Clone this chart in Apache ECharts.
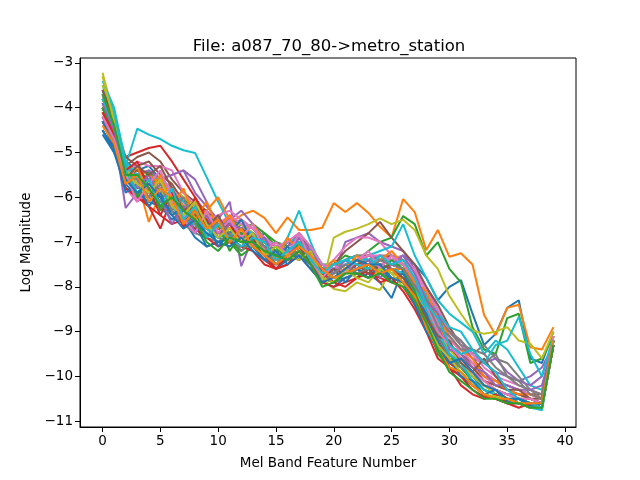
<!DOCTYPE html>
<html>
<head>
<meta charset="utf-8">
<script src="https://cdn.jsdelivr.net/npm/echarts@6/dist/echarts.min.js"></script>
<style>
  html, body { margin: 0; padding: 0; background: #fff; }
  #chart { width: 640px; height: 480px; }
</style>
</head>
<body>
<div id="chart"></div>
<script>
// mel band index 0..39
var bands = [0,1,2,3,4,5,6,7,8,9,10,11,12,13,14,15,16,17,18,19,20,21,22,23,24,25,26,27,28,29,30,31,32,33,34,35,36,37,38,39];
var xTicks = [0, 5, 10, 15, 20, 25, 30, 35, 40];
var yTicks = [-11, -10, -9, -8, -7, -6, -5, -4, -3];

// one array per frame
var frame00 = [-3.6,-4.3,-5.2,-5.4,-5.3,-5.6,-5.8,-6.2,-6.4,-6.6,-6.5,-6.8,-6.6,-6.9,-7.1,-7.3,-7.0,-6.9,-7.3,-7.5,-7.6,-7.4,-7.5,-7.4,-7.3,-7.4,-7.3,-7.5,-7.8,-8.3,-8.0,-7.85,-8.6,-9.3,-9.05,-8.47,-8.3,-9.6,-9.7,-9.0];
var frame01 = [-4.0,-4.6,-5.5,-5.6,-6.55,-5.9,-5.8,-6.0,-6.2,-6.4,-6.5,-6.6,-6.4,-6.3,-6.46,-6.8,-6.45,-6.73,-6.73,-6.68,-6.13,-6.33,-6.13,-6.35,-6.66,-6.9,-6.04,-6.33,-7.18,-6.73,-7.33,-7.25,-7.5,-8.63,-9.08,-8.47,-8.4,-9.35,-9.4,-8.9];
var frame02 = [-3.8,-4.5,-5.3,-5.5,-5.4,-5.7,-5.9,-6.0,-6.3,-6.4,-6.6,-6.5,-6.7,-6.6,-6.8,-7.0,-7.1,-6.9,-7.1,-7.5,-7.5,-7.3,-7.4,-7.2,-7.0,-6.9,-6.42,-6.6,-7.3,-7.0,-7.6,-7.9,-8.9,-9.4,-9.5,-8.7,-8.6,-9.7,-9.6,-9.1];
var frame03 = [-4.2,-4.7,-5.1,-5.0,-4.9,-4.85,-5.2,-5.6,-6.0,-6.4,-6.5,-6.6,-6.7,-6.9,-7.2,-7.5,-7.3,-7.1,-7.3,-7.6,-7.8,-7.6,-7.5,-7.6,-7.4,-7.3,-7.5,-8.0,-8.4,-8.9,-9.4,-9.6,-9.9,-10.2,-10.3,-10.4,-10.5,-10.6,-10.6,-9.2];
var frame04 = [-4.4,-4.6,-6.24,-5.9,-6.0,-5.6,-5.5,-5.4,-5.9,-6.2,-6.5,-6.1,-7.54,-6.9,-7.0,-7.2,-7.0,-7.1,-7.2,-7.5,-7.7,-7.0,-6.9,-6.8,-7.0,-7.1,-7.2,-7.6,-8.0,-8.5,-9.0,-9.2,-9.5,-9.7,-9.9,-10.0,-10.1,-10.0,-9.8,-9.3];
var frame05 = [-3.7,-4.4,-5.3,-5.1,-5.0,-5.2,-5.6,-5.9,-6.1,-6.3,-6.6,-6.5,-6.6,-6.8,-7.0,-7.2,-7.0,-6.9,-7.3,-7.6,-7.5,-7.2,-7.0,-6.8,-6.55,-6.9,-7.2,-7.5,-8.0,-8.4,-8.9,-9.3,-9.6,-9.9,-10.1,-10.2,-10.3,-10.4,-10.4,-9.2];
var frame06 = [-4.1,-4.8,-5.6,-5.2,-5.3,-5.3,-5.4,-5.9,-6.2,-6.6,-6.8,-6.4,-6.6,-6.7,-7.0,-7.1,-7.2,-6.9,-7.2,-7.6,-7.4,-7.1,-6.9,-6.9,-7.0,-7.3,-7.4,-7.6,-8.1,-8.6,-9.1,-9.5,-9.8,-10.0,-10.2,-10.3,-10.4,-10.4,-10.5,-9.2];
var frame07 = [-3.8,-4.4,-5.3,-5.6,-5.7,-5.8,-6.2,-6.5,-6.6,-6.7,-6.8,-6.6,-6.5,-6.7,-7.0,-7.3,-7.2,-7.0,-7.4,-7.7,-7.8,-7.7,-7.5,-7.4,-7.3,-7.3,-7.4,-7.8,-8.2,-8.6,-9.0,-9.2,-9.5,-9.3,-9.6,-9.7,-10.0,-10.3,-10.5,-9.2];
var frame08 = [-3.22,-4.2,-5.3,-5.4,-5.5,-5.6,-5.8,-6.0,-6.2,-6.4,-6.5,-6.7,-6.6,-6.8,-7.0,-7.2,-7.1,-7.3,-7.4,-7.96,-6.9,-6.77,-6.7,-6.6,-6.47,-6.6,-6.5,-6.73,-7.3,-7.6,-8.2,-8.6,-8.97,-9.05,-9.0,-8.9,-9.2,-9.27,-9.6,-9.0];
var frame09 = [-3.5,-4.1,-5.3,-4.47,-4.6,-4.7,-4.85,-4.95,-5.01,-5.55,-6.1,-6.6,-6.9,-7.0,-7.2,-7.3,-6.9,-6.3,-7.0,-7.6,-7.5,-7.4,-7.5,-7.3,-7.2,-7.1,-6.6,-7.3,-7.8,-8.3,-8.6,-8.8,-9.0,-9.5,-9.2,-9.4,-9.8,-10.2,-10.3,-9.1];
var frame10 = [-4.5,-4.9,-5.7,-6.0,-5.8,-6.1,-6.3,-6.5,-6.9,-7.1,-7.0,-6.9,-7.1,-7.0,-7.3,-7.6,-7.4,-7.2,-7.5,-7.8,-7.9,-7.7,-7.6,-7.7,-7.9,-8.25,-7.6,-8.0,-8.5,-9.0,-9.6,-9.7,-10.0,-10.3,-10.4,-10.5,-10.6,-10.6,-10.7,-9.3];
var frame11 = [-3.9,-4.6,-5.5,-5.8,-5.7,-6.0,-5.9,-6.2,-6.5,-6.3,-6.0,-6.5,-6.8,-6.9,-7.1,-7.4,-7.3,-7.0,-7.3,-7.7,-7.8,-7.6,-7.5,-7.3,-7.4,-7.5,-7.5,-7.9,-8.4,-8.8,-9.3,-9.5,-9.8,-10.1,-10.2,-10.3,-10.4,-10.5,-10.6,-9.2];
var frame12 = [-4.0,-4.7,-5.5,-6.0,-5.4,-5.9,-6.1,-6.4,-6.7,-6.6,-6.9,-7.0,-7.2,-7.0,-6.8,-7.1,-7.2,-7.0,-7.3,-7.6,-7.7,-7.5,-7.4,-7.6,-7.7,-7.8,-7.9,-8.3,-8.8,-9.3,-9.7,-9.8,-10.1,-10.3,-10.4,-10.5,-10.6,-10.6,-10.6,-9.2];
var frame13 = [-4.3,-4.8,-5.6,-5.9,-6.2,-6.7,-6.0,-6.3,-6.4,-6.6,-6.5,-6.8,-6.9,-7.1,-7.4,-7.6,-7.5,-7.2,-7.5,-7.8,-7.9,-7.8,-7.7,-7.8,-7.6,-7.5,-7.6,-8.1,-8.6,-9.1,-9.7,-9.9,-10.2,-10.4,-10.5,-10.6,-10.6,-10.7,-10.7,-9.3];
var frame14 = [-3.7,-4.4,-5.3,-5.5,-5.4,-5.6,-5.5,-5.4,-5.6,-6.1,-6.7,-6.5,-6.3,-6.6,-6.9,-7.1,-7.0,-6.8,-7.1,-7.5,-7.6,-7.4,-7.3,-7.4,-7.5,-7.6,-7.7,-8.0,-8.3,-8.7,-9.0,-9.3,-9.6,-9.7,-9.6,-9.9,-10.1,-10.2,-10.0,-9.2];
var frame15 = [-3.6,-4.3,-5.1,-5.3,-5.2,-5.5,-5.7,-6.1,-6.3,-6.6,-6.8,-6.9,-6.8,-6.9,-7.1,-7.3,-7.1,-6.8,-7.2,-7.6,-7.6,-7.4,-7.3,-7.3,-7.4,-7.5,-7.6,-7.8,-8.2,-8.7,-9.3,-9.5,-9.7,-10.0,-10.1,-10.2,-10.3,-10.4,-10.5,-9.3];
var frame16 = [-4.2,-4.8,-5.8,-6.1,-5.9,-5.6,-5.8,-6.1,-6.5,-6.7,-6.6,-6.4,-6.6,-6.9,-7.1,-7.3,-7.2,-7.0,-7.3,-7.6,-7.7,-7.6,-7.5,-7.4,-7.5,-7.4,-7.3,-7.7,-8.1,-8.5,-9.0,-9.3,-9.5,-9.8,-10.0,-10.1,-10.2,-10.3,-10.4,-9.1];
var frame17 = [-3.9,-4.5,-5.4,-5.7,-5.9,-6.1,-6.3,-6.6,-6.8,-6.9,-7.0,-6.8,-7.0,-7.1,-7.3,-7.4,-7.3,-7.1,-7.4,-7.8,-7.9,-7.8,-7.7,-7.6,-7.7,-7.8,-7.8,-8.0,-8.4,-8.7,-9.0,-9.3,-9.4,-9.5,-9.8,-10.0,-10.2,-10.3,-10.4,-9.2];
var frame18 = [-3.5,-4.2,-5.4,-5.6,-5.7,-5.9,-6.0,-6.2,-6.4,-6.5,-6.7,-6.8,-6.9,-7.0,-7.2,-7.3,-7.2,-7.1,-7.4,-7.8,-8.05,-8.1,-7.9,-8.0,-8.07,-7.6,-7.9,-8.2,-8.6,-9.0,-9.5,-9.7,-9.9,-10.2,-10.3,-10.4,-10.5,-10.5,-10.6,-9.2];
var frame19 = [-3.4,-4.0,-5.2,-5.5,-5.6,-5.6,-5.9,-6.1,-6.3,-6.5,-6.6,-6.8,-6.7,-6.8,-7.0,-7.2,-7.0,-6.9,-7.2,-7.5,-7.6,-7.4,-7.3,-7.4,-7.3,-7.5,-7.5,-7.8,-8.2,-8.6,-8.9,-9.0,-9.4,-9.7,-9.3,-9.2,-8.67,-9.5,-10.0,-9.1];
var frame20 = [-4.5,-5.0,-5.8,-5.9,-6.1,-6.2,-6.5,-6.3,-6.6,-7.1,-7.0,-6.9,-6.8,-7.1,-7.4,-7.5,-7.4,-7.3,-7.5,-7.9,-8.0,-7.8,-7.7,-7.6,-7.6,-7.7,-7.7,-8.1,-8.7,-9.2,-9.8,-10.0,-10.2,-10.4,-10.5,-10.55,-10.6,-10.65,-10.75,-9.3];
var frame21 = [-4.1,-4.7,-5.6,-5.8,-5.5,-5.7,-5.9,-6.2,-6.3,-6.5,-6.6,-6.7,-6.9,-7.0,-7.2,-7.4,-7.3,-7.1,-7.3,-7.6,-7.7,-7.6,-7.5,-7.4,-7.5,-7.6,-7.6,-7.9,-8.3,-8.8,-9.3,-9.6,-9.9,-10.1,-10.3,-10.4,-10.5,-10.5,-10.6,-9.1];
var frame22 = [-4.0,-4.6,-5.5,-5.7,-5.8,-6.0,-6.2,-6.4,-6.6,-6.8,-6.9,-7.0,-7.3,-7.1,-7.0,-7.2,-7.3,-7.2,-7.4,-7.8,-7.9,-7.7,-7.6,-7.5,-7.6,-7.8,-7.9,-8.3,-8.7,-9.0,-9.5,-9.8,-10.1,-10.3,-10.4,-10.5,-10.6,-10.6,-10.6,-9.2];
var frame23 = [-4.3,-4.9,-5.8,-6.0,-6.2,-6.4,-6.6,-6.5,-6.7,-6.9,-7.1,-7.0,-7.1,-7.2,-7.5,-7.6,-7.5,-7.3,-7.6,-7.9,-8.0,-7.9,-7.8,-7.7,-7.8,-7.9,-8.0,-8.4,-8.9,-9.4,-9.8,-10.0,-10.3,-10.45,-10.5,-10.6,-10.6,-10.7,-10.7,-9.3];
var frame24 = [-3.8,-4.5,-5.4,-5.6,-5.8,-5.9,-6.1,-6.3,-6.5,-6.6,-6.7,-6.6,-6.7,-6.9,-7.1,-7.3,-7.1,-6.9,-7.2,-7.6,-7.7,-7.5,-7.4,-7.3,-7.4,-7.5,-7.6,-7.9,-8.4,-8.9,-9.5,-9.7,-10.0,-10.2,-10.3,-10.4,-10.4,-10.5,-10.6,-9.2];
var frame25 = [-4.0,-4.6,-5.5,-5.4,-5.6,-5.8,-6.0,-6.2,-6.4,-6.6,-6.7,-6.8,-6.7,-6.9,-7.1,-7.3,-7.2,-7.0,-7.3,-7.7,-7.8,-7.6,-7.5,-7.4,-7.5,-7.6,-7.7,-8.0,-8.5,-9.0,-9.4,-9.6,-9.8,-10.1,-10.2,-10.3,-10.4,-10.5,-10.6,-9.2];
var frame26 = [-3.9,-4.5,-5.5,-5.7,-5.6,-5.8,-6.1,-6.4,-6.6,-6.5,-6.4,-6.3,-6.5,-6.7,-6.9,-7.1,-7.0,-6.8,-7.1,-7.5,-7.6,-7.5,-7.4,-7.3,-7.3,-7.4,-7.5,-7.8,-8.3,-8.8,-9.2,-9.4,-9.7,-9.9,-10.1,-10.2,-10.3,-10.4,-10.5,-9.2];
var frame27 = [-4.2,-4.8,-5.6,-5.9,-6.0,-6.2,-6.4,-6.6,-6.5,-6.7,-6.9,-7.0,-6.9,-7.0,-7.3,-7.4,-7.3,-7.2,-7.4,-7.7,-7.8,-7.7,-7.6,-7.5,-7.5,-7.6,-7.7,-8.1,-8.6,-9.1,-9.6,-9.8,-10.0,-10.2,-10.3,-10.4,-10.5,-10.6,-10.6,-9.3];
var frame28 = [-3.7,-4.3,-5.4,-5.6,-5.7,-5.9,-6.0,-6.2,-6.5,-6.7,-6.8,-6.9,-7.0,-7.1,-7.2,-7.4,-7.2,-7.0,-7.3,-7.7,-7.8,-7.6,-7.5,-7.6,-7.6,-7.7,-7.8,-8.1,-8.5,-9.0,-9.4,-9.7,-10.0,-10.2,-10.4,-10.5,-10.5,-10.6,-10.6,-9.2];
var frame29 = [-3.6,-4.2,-5.3,-5.6,-5.8,-6.0,-6.2,-6.5,-6.6,-6.7,-6.9,-6.8,-6.9,-7.0,-7.2,-7.3,-7.2,-7.0,-7.3,-7.7,-7.7,-7.5,-7.4,-7.4,-7.5,-7.6,-7.7,-8.0,-8.5,-9.0,-9.5,-9.7,-10.1,-10.3,-10.4,-10.6,-10.6,-10.7,-10.75,-9.2];
var frame30 = [-4.3,-4.9,-5.9,-5.7,-6.2,-5.9,-6.4,-6.2,-6.8,-6.5,-7.1,-6.8,-6.5,-7.0,-6.9,-7.4,-7.1,-7.4,-7.2,-7.7,-7.6,-7.9,-7.6,-7.8,-7.5,-7.9,-7.7,-8.2,-8.6,-9.3,-9.6,-10.0,-10.1,-10.4,-10.3,-10.6,-10.5,-10.7,-10.6,-9.3];
var frame31 = [-3.8,-4.5,-5.7,-5.3,-5.9,-5.5,-6.2,-5.8,-6.5,-6.1,-6.7,-6.4,-6.9,-6.6,-7.0,-7.4,-6.9,-7.2,-7.5,-7.7,-7.4,-7.6,-7.3,-7.6,-7.4,-7.2,-7.5,-7.9,-8.1,-8.7,-9.1,-9.4,-9.6,-10.0,-10.1,-10.3,-10.4,-10.4,-10.5,-9.1];
var frame32 = [-4.0,-4.6,-5.4,-6.0,-5.6,-6.3,-5.9,-6.6,-6.3,-6.9,-6.6,-7.2,-6.8,-7.0,-7.3,-7.1,-7.4,-7.0,-7.5,-7.7,-7.9,-7.6,-7.8,-7.5,-7.7,-7.4,-7.6,-8.1,-8.8,-9.5,-9.8,-9.9,-10.2,-10.4,-10.5,-10.5,-10.6,-10.6,-10.7,-9.2];
var frame33 = [-4.1,-4.6,-5.4,-5.2,-5.8,-6.4,-5.9,-6.7,-6.0,-6.5,-6.8,-6.6,-7.0,-6.9,-7.3,-7.6,-7.3,-7.4,-7.2,-7.7,-7.9,-8.0,-7.8,-7.6,-7.9,-7.8,-8.1,-8.5,-9.0,-9.6,-9.8,-10.2,-10.4,-10.5,-10.4,-10.6,-10.7,-10.6,-10.7,-9.3];
var frame34 = [-3.9,-4.5,-5.5,-5.8,-5.5,-6.0,-6.6,-6.2,-6.8,-6.4,-6.9,-6.6,-6.7,-7.1,-6.9,-7.3,-7.4,-6.9,-7.2,-7.6,-7.7,-7.4,-7.6,-7.4,-7.8,-7.5,-7.3,-7.7,-8.3,-8.6,-9.4,-9.5,-9.8,-9.9,-10.2,-10.2,-10.3,-10.3,-10.2,-9.3];
var frame35 = [-3.6,-4.3,-5.6,-5.3,-5.5,-5.3,-5.8,-6.3,-6.1,-6.7,-6.4,-6.9,-7.1,-6.8,-7.2,-7.0,-7.3,-7.1,-7.5,-7.8,-7.6,-7.7,-7.5,-7.7,-7.5,-7.6,-7.8,-8.2,-8.7,-9.1,-9.2,-9.7,-9.9,-9.6,-10.0,-10.3,-10.3,-10.5,-10.5,-9.2];
var frame36 = [-4.2,-4.7,-5.5,-6.1,-5.7,-5.4,-6.0,-6.5,-6.8,-6.3,-6.8,-6.5,-6.9,-6.6,-7.2,-7.0,-7.3,-6.8,-7.4,-7.8,-7.5,-7.7,-7.4,-7.2,-7.6,-7.3,-7.5,-7.8,-8.4,-9.0,-9.3,-9.6,-9.9,-10.1,-10.3,-10.4,-10.5,-10.5,-10.6,-9.1];
var frame37 = [-3.7,-4.4,-5.5,-5.6,-6.0,-5.7,-6.3,-6.0,-6.6,-6.9,-6.5,-6.8,-7.2,-6.9,-7.1,-7.5,-7.2,-7.3,-7.6,-7.9,-7.7,-7.5,-7.7,-7.6,-7.4,-7.5,-7.6,-8.0,-8.3,-8.9,-9.1,-9.4,-9.4,-9.7,-9.5,-10.0,-10.1,-10.4,-10.5,-9.2];
var frame38 = [-3.3,-4.3,-5.5,-5.7,-5.9,-5.6,-6.2,-6.4,-6.1,-6.6,-6.9,-6.7,-7.0,-6.8,-7.3,-7.1,-7.3,-7.4,-7.2,-7.8,-7.9,-7.6,-7.8,-7.9,-7.6,-7.7,-8.0,-8.3,-8.8,-9.3,-9.6,-9.9,-10.2,-10.4,-10.45,-10.5,-10.6,-10.7,-10.7,-9.3];
var frame39 = [-3.8,-4.4,-5.4,-5.9,-5.6,-6.2,-5.8,-6.5,-6.2,-6.9,-6.6,-6.9,-7.1,-6.9,-7.0,-7.4,-7.2,-7.0,-7.4,-7.7,-7.5,-7.4,-7.5,-7.6,-7.3,-7.5,-7.4,-7.8,-8.4,-8.7,-9.3,-9.5,-9.4,-9.7,-9.9,-10.3,-10.5,-10.6,-10.7,-9.2];
var frame40 = [-4.6,-5.0,-5.6,-5.9,-5.7,-6.0,-6.4,-6.7,-6.5,-6.8,-7.0,-7.1,-6.9,-7.2,-7.4,-7.2,-7.5,-7.3,-7.6,-7.9,-7.8,-7.6,-7.4,-7.5,-7.5,-7.8,-7.9,-8.4,-9.0,-9.4,-9.7,-9.6,-9.9,-10.2,-10.3,-10.5,-10.5,-10.6,-10.6,-9.3];
var frame41 = [-4.4,-4.8,-5.7,-5.5,-6.1,-5.8,-6.0,-6.6,-6.3,-6.7,-6.5,-7.0,-6.7,-7.1,-7.3,-7.5,-7.3,-7.1,-7.3,-7.6,-7.8,-7.7,-7.6,-7.5,-7.7,-7.6,-7.9,-8.2,-8.9,-9.4,-9.8,-9.9,-10.2,-10.4,-10.5,-10.5,-10.6,-10.6,-10.6,-9.2];
var frame42 = [-3.7,-4.4,-5.5,-5.5,-5.8,-6.2,-6.0,-6.3,-6.5,-7.0,-7.2,-6.9,-7.0,-7.0,-7.2,-7.3,-7.4,-7.2,-7.5,-8.0,-7.9,-7.7,-7.7,-7.8,-7.7,-7.9,-8.0,-8.3,-8.8,-9.4,-9.9,-10.1,-10.3,-10.5,-10.5,-10.6,-10.6,-10.7,-10.7,-9.3];

var frames = [frame00, frame01, frame02, frame03, frame04, frame05, frame06, frame07, frame08, frame09,
              frame10, frame11, frame12, frame13, frame14, frame15, frame16, frame17, frame18, frame19,
              frame20, frame21, frame22, frame23, frame24, frame25, frame26, frame27, frame28, frame29,
              frame30, frame31, frame32, frame33, frame34, frame35, frame36, frame37, frame38, frame39,
              frame40, frame41, frame42];

// matplotlib tab10
var palette = ['#1f77b4', '#ff7f0e', '#2ca02c', '#d62728', '#9467bd',
               '#8c564b', '#e377c2', '#7f7f7f', '#bcbd22', '#17becf'];

var font = 'DejaVu Sans';
function minus(v) { return String(v).replace('-', '\u2212'); }

var myChart = echarts.init(document.getElementById('chart'), null, { renderer: 'canvas' });

var series = frames.map(function (vals) {
  return {
    type: 'line',
    data: bands.map(function (b, i) { return [b, vals[i]]; }),
    symbol: 'none',
    lineStyle: { width: 2 },
    emphasis: { disabled: true }
  };
});

myChart.setOption({
  animation: false,
  color: palette,
  title: {
    text: 'File: a087_70_80->metro_station',
    left: 324,
    top: 33,
    textAlign: 'center',
    textStyle: { fontFamily: font, fontSize: 16.5, fontWeight: 'normal', color: '#000' }
  },
  grid: {
    left: 80, right: 64, top: 58, bottom: 53,
    show: true, borderColor: '#000', borderWidth: 1, backgroundColor: 'transparent'
  },
  xAxis: {
    type: 'value',
    min: -1.95, max: 40.95,
    name: 'Mel Band Feature Number',
    nameLocation: 'middle',
    nameGap: 29,
    nameTextStyle: { fontFamily: font, fontSize: 13.5, color: '#000' },
    axisLine: { show: true, onZero: false, lineStyle: { color: '#000', width: 1 } },
    axisTick: { show: true, length: 5, lineStyle: { color: '#000' }, customValues: xTicks },
    axisLabel: { fontFamily: font, fontSize: 13.5, color: '#000', margin: 7, customValues: xTicks },
    splitLine: { show: false }
  },
  yAxis: {
    type: 'value',
    min: -11.13, max: -2.89,
    name: 'Log Magnitude',
    nameLocation: 'middle',
    nameGap: 46,
    nameTextStyle: { fontFamily: font, fontSize: 13.5, color: '#000' },
    axisLine: { show: true, onZero: false, lineStyle: { color: '#000', width: 1 } },
    axisTick: { show: true, length: 5, lineStyle: { color: '#000' }, customValues: yTicks },
    axisLabel: { fontFamily: font, fontSize: 13.5, color: '#000', margin: 7, customValues: yTicks, formatter: minus },
    splitLine: { show: false }
  },
  series: series
});
</script>
</body>
</html>
